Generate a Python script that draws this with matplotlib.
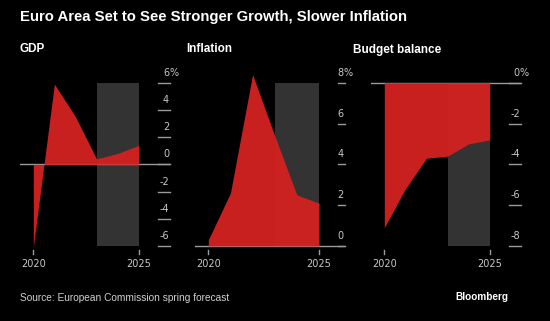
import matplotlib
matplotlib.use("Agg")
import matplotlib.pyplot as plt
from matplotlib.lines import Line2D
import matplotlib.transforms as mtransforms

# ---------------- data ----------------
years = [2020, 2021, 2022, 2023, 2024, 2025]
gdp = [-6.1, 5.9, 3.5, 0.4, 0.8, 1.4]
inflation = [0.3, 2.6, 8.4, 5.4, 2.5, 2.1]
budget = [-7.1, -5.2, -3.7, -3.6, -3.0, -2.8]
forecast_start, forecast_end = 2023, 2025

gdp_ticks = [-6, -4, -2, 0, 2, 4, 6]
infl_ticks = [0, 2, 4, 6, 8]
budget_ticks = [-8, -6, -4, -2, 0]
xtick_years = [2020, 2025]

title = "Euro Area Set to See Stronger Growth, Slower Inflation"
panel_titles = ["GDP", "Inflation", "Budget balance"]
source = "Source: European Commission spring forecast"
brand = "Bloomberg"

# ---------------- style ----------------
W, H = 550, 321
BG = "#000000"
RED = (211/255, 34/255, 32/255)
SHADE = "#333333"
LINE = "#9a9a9a"
TICKTXT = "#c8c8c8"
FONT = "Liberation Sans"

fig = plt.figure(figsize=(W/100, H/100), dpi=100, facecolor=BG)


def fx(px):
    return px / W


def fy(py):
    return 1 - py / H


def make_axes(left, right, top, bottom, x_px, y_px, xv, yv):
    """Axes box in pixels; x_px/y_px give pixel positions of values xv/yv (two each)."""
    ax = fig.add_axes([fx(left), fy(bottom), (right-left)/W, (bottom-top)/H])
    ax.set_facecolor(BG)
    kx = (x_px[1]-x_px[0]) / (xv[1]-xv[0])
    ax.set_xlim(xv[0] - (x_px[0]-left)/kx, xv[1] + (right-x_px[1])/kx)
    ky = (y_px[0]-y_px[1]) / (yv[1]-yv[0])
    ax.set_ylim(yv[0] - (bottom-y_px[0])/ky, yv[1] + (y_px[1]-top)/ky)
    for s in ax.spines.values():
        s.set_visible(False)
    ax.set_xticks([])
    ax.set_yticks([])
    return ax


def decorate(ax, values, ticks, tick_len_px, zero_line):
    lo, hi = min(ticks), max(ticks)
    ax.fill_between([forecast_start, forecast_end], lo, hi, color=SHADE, lw=0, zorder=1)
    ax.axhline(zero_line, color=LINE, lw=1.0, zorder=2)
    ax.fill_between(years, values, 0, color=RED, alpha=0.95, lw=0, zorder=3)
    # right-side tick lines and labels
    bb = ax.get_position()
    right_fig = bb.x1
    tr = mtransforms.blended_transform_factory(fig.transFigure, ax.transData)
    off = mtransforms.ScaledTranslation(0, 10/100, fig.dpi_scale_trans)
    for t in ticks:
        ax.add_line(Line2D([right_fig - tick_len_px/W, right_fig], [t, t], transform=tr,
                           color=LINE, lw=1.0, clip_on=False))
        ax.text(right_fig - 1/W, t, f"{t}", transform=tr + off, ha="right", va="center",
                color=TICKTXT, fontsize=7, family="DejaVu Sans")
        if t == hi:
            ax.text(right_fig - 1/W, t, "%", transform=tr + off, ha="left", va="center",
                    color=TICKTXT, fontsize=7, family="DejaVu Sans")
    # bottom x ticks
    trx = mtransforms.blended_transform_factory(ax.transData, ax.transAxes)
    for yr in xtick_years:
        ax.add_line(Line2D([yr, yr], [0, -4/190], transform=trx, color=LINE, lw=1.0,
                           clip_on=False))
        ax.text(yr, -14/190, str(yr), transform=trx, ha="center", va="center",
                color=TICKTXT, fontsize=7, family="DejaVu Sans")


ax1 = make_axes(20, 170, 60, 250, (33.3, 138.7), (246, 82.7), (2020, 2025), (-6, 6))
decorate(ax1, gdp, gdp_ticks, 12, 0)

ax2 = make_axes(195, 345, 60, 250, (208.3, 319), (246, 82.7), (2020, 2025), (0, 8))
decorate(ax2, inflation, infl_ticks, 7, 0)

ax3 = make_axes(371, 521, 60, 250, (384.3, 489.7), (246, 82.7), (2020, 2025), (-8, 0))
decorate(ax3, budget, budget_ticks, 12, 0)

# ---------------- texts ----------------
fig.text(fx(20), fy(17.5), title, color="white", fontsize=10.7, fontweight="bold",
         family=FONT, ha="left", va="center")
for x, t in zip([20, 186, 353], panel_titles):
    fig.text(fx(x), fy(49.5), t, color="white", fontsize=8.5, fontweight="bold",
             family=FONT, ha="left", va="center")
fig.text(fx(20), fy(298), source, color="#d0d0d0", fontsize=7.3, family=FONT,
         ha="left", va="center")
fig.text(fx(508), fy(297.5), brand, color="white", fontsize=7.2, fontweight="bold",
         family=FONT, ha="right", va="center")

fig.savefig("out.png", dpi=100, facecolor=BG)
